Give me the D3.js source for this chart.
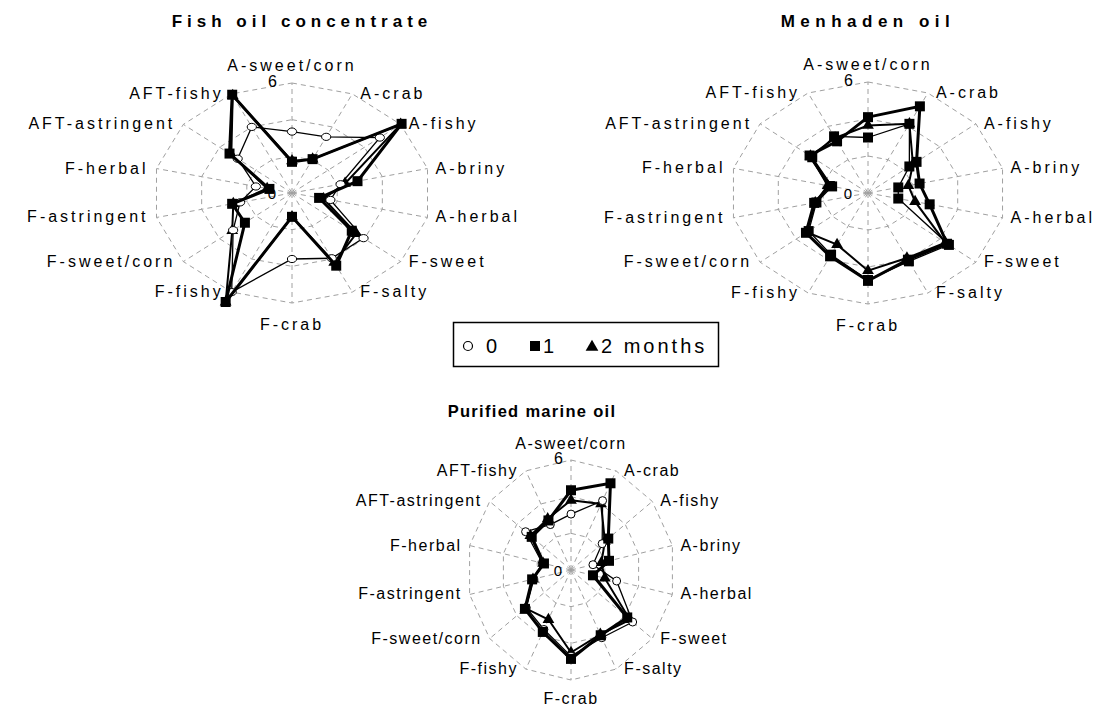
<!DOCTYPE html>
<html>
<head>
<meta charset="utf-8">
<script src="https://cdn.jsdelivr.net/npm/d3@7"></script>
<style>
  body { margin: 0; background: #fff; }
  svg { font-family: Arial, "Liberation Sans", sans-serif; }
</style>
</head>
<body>
<div id="chart"></div>
<script>
// sensory attributes, clockwise from the top
const attributes = ['A-sweet/corn', 'A-crab', 'A-fishy', 'A-briny', 'A-herbal', 'F-sweet', 'F-salty',
  'F-crab', 'F-fishy', 'F-sweet/corn', 'F-astringent', 'F-herbal', 'AFT-astringent', 'AFT-fishy']
const monthLabels = ['0', '1', '2 months']
const maxValue = 6
const ringValues = [2, 4, 6]

// Fish oil concentrate: 0, 1, 2 months
const fishOil0 = [3.35, 3.4, 4.85, 2.15, 1.7, 3.95, 3.95, 3.6, 6.0, 3.25, 2.3, 1.6, 3.0, 4.0]
const fishOil1 = [1.7, 2.05, 6.05, 2.9, 1.2, 3.3, 4.4, 1.3, 6.6, 2.6, 2.65, 1.0, 3.45, 5.95]
const fishOil2 = [1.75, 2.05, 6.0, 2.35, 1.4, 3.55, 4.2, 1.3, 6.6, 3.3, 2.6, 1.1, 3.35, 5.9]

// Menhaden oil
const menhaden0 = [3.0, 4.15, 2.3, 1.35, 1.35, 4.5, 4.1, 4.7, 3.7, 3.3, 2.3, 1.6, 3.1, 3.4]
const menhaden1 = [4.1, 5.2, 2.7, 2.3, 2.75, 4.4, 4.0, 4.75, 3.8, 3.45, 2.4, 1.7, 3.25, 3.1]
const menhaden2 = [3.65, 4.15, 2.5, 1.8, 2.1, 4.3, 3.9, 4.2, 3.1, 3.4, 2.35, 1.8, 3.2, 3.3]

// Purified marine oil
const purified0 = [3.05, 4.2, 2.3, 1.3, 2.7, 4.55, 4.1, 4.7, 3.6, 3.3, 2.2, 1.7, 3.35, 2.75]
const purified1 = [4.35, 5.25, 2.75, 2.25, 1.3, 4.15, 3.95, 4.85, 3.75, 3.4, 2.3, 1.6, 2.9, 3.0]
const purified2 = [3.8, 4.0, 2.5, 1.8, 2.0, 4.35, 3.9, 4.5, 3.0, 3.35, 2.25, 1.65, 3.0, 3.1]

const width = 1104
const height = 709

const panels = [
  { title: 'Fish oil concentrate', series: [fishOil0, fishOil1, fishOil2],
    markers: ['circle', 'square', 'triangle'],
    cx: 292, cy: 193, rx: 139, ry: 110, titleX: 302, titleY: 27, titleSize: 17, titleSpacing: 5,
    labelSpacing: 3, topDy: 12, bottomDy: 27, circle: [4.6, 3.6], tickDx: 15, zeroDx: 16 },
  { title: 'Menhaden oil', series: [menhaden0, menhaden1, menhaden2],
    markers: ['square', 'square', 'triangle'],
    cx: 868, cy: 193, rx: 138, ry: 111, titleX: 868, titleY: 27, titleSize: 17, titleSpacing: 5.5,
    labelSpacing: 3, topDy: 12, bottomDy: 27, circle: [4.6, 3.6], tickDx: 15, zeroDx: 16 },
  { title: 'Purified marine oil', series: [purified0, purified1, purified2],
    markers: ['circle', 'square', 'triangle'],
    cx: 571, cy: 570, rx: 104, ry: 110, titleX: 532, titleY: 417, titleSize: 16.5, titleSpacing: 1.3,
    labelSpacing: 1.5, topDy: 11, bottomDy: 24, circle: [4, 4], tickDx: 8, zeroDx: 9 }
]

// line width per month series
const seriesWidth = [1.3, 3, 2]
const drawOrder = [2, 0, 1]

const svg = d3.select('#chart')
  .append('svg')
  .attr('width', width)
  .attr('height', height)

const angle = d3.scaleLinear().domain([0, attributes.length]).range([0, 2 * Math.PI])
const radius = d3.scaleLinear().domain([0, maxValue]).range([0, 1])

function drawRadar (p) {
  const g = svg.append('g')
  const pos = (i, v) => [
    p.cx + p.rx * radius(v) * Math.sin(angle(i)),
    p.cy - p.ry * radius(v) * Math.cos(angle(i))
  ]

  // title
  g.append('text')
    .attr('x', p.titleX)
    .attr('y', p.titleY)
    .attr('text-anchor', 'middle')
    .attr('font-size', p.titleSize)
    .attr('font-weight', 'bold')
    .attr('letter-spacing', p.titleSpacing)
    .text(p.title)

  // grid rings (polygons) and spokes
  const ring = d3.line().curve(d3.curveLinearClosed)
  g.selectAll('.ring')
    .data(ringValues)
    .join('path')
    .attr('d', v => ring(attributes.map((a, i) => pos(i, v))))
    .attr('fill', 'none')
    .attr('stroke', '#a0a0a0')
    .attr('stroke-width', 1)
    .attr('stroke-dasharray', '5,4')
  g.selectAll('.spoke')
    .data(attributes)
    .join('line')
    .attr('x1', p.cx)
    .attr('y1', p.cy)
    .attr('x2', (a, i) => pos(i, maxValue)[0])
    .attr('y2', (a, i) => pos(i, maxValue)[1])
    .attr('stroke', '#a0a0a0')
    .attr('stroke-width', 1)
    .attr('stroke-dasharray', '5,4')

  // axis labels
  g.selectAll('.attr-label')
    .data(attributes)
    .join('text')
    .attr('x', (a, i) => {
      const s = Math.sin(angle(i))
      const x = pos(i, maxValue)[0]
      return Math.abs(s) < 0.1 ? x : x + (s > 0 ? 8 : -8)
    })
    .attr('y', (a, i) => {
      const c = Math.cos(angle(i))
      const y = pos(i, maxValue)[1]
      if (c > 0.99) return y - p.topDy
      if (c < -0.99) return y + p.bottomDy
      return y + 5
    })
    .attr('text-anchor', (a, i) => {
      const s = Math.sin(angle(i))
      return Math.abs(s) < 0.1 ? 'middle' : (s > 0 ? 'start' : 'end')
    })
    .attr('font-size', 16)
    .attr('letter-spacing', p.labelSpacing)
    .text(d => d)

  // scale labels 6 and 0
  g.append('text')
    .attr('x', p.cx - p.tickDx)
    .attr('y', p.cy - p.ry + 4)
    .attr('text-anchor', 'end')
    .attr('font-size', 16)
    .text(maxValue)
  g.append('text')
    .attr('x', p.cx - p.zeroDx)
    .attr('y', p.cy + 6)
    .attr('text-anchor', 'end')
    .attr('font-size', 15)
    .text(0)

  // month series
  const line = d3.line().curve(d3.curveLinearClosed)
  drawOrder.forEach(k => {
    const values = p.series[k]
    const marker = p.markers[k]
    const pts = values.map((v, i) => pos(i, v))
    g.append('path')
      .attr('d', line(pts))
      .attr('fill', 'none')
      .attr('stroke', '#000')
      .attr('stroke-width', seriesWidth[k])
      .attr('stroke-linejoin', 'miter')

    const m = g.append('g')
    if (marker === 'circle') {
      m.selectAll('ellipse')
        .data(pts)
        .join('ellipse')
        .attr('cx', d => d[0])
        .attr('cy', d => d[1])
        .attr('rx', p.circle[0])
        .attr('ry', p.circle[1])
        .attr('fill', '#fff')
        .attr('stroke', '#000')
        .attr('stroke-width', 1)
    } else {
      const sym = marker === 'square'
        ? d3.symbol().type(d3.symbolSquare).size(100)
        : d3.symbol().type(d3.symbolTriangle).size(60)
      m.selectAll('path')
        .data(pts)
        .join('path')
        .attr('transform', d => `translate(${d[0]},${d[1]})`)
        .attr('d', sym)
        .attr('fill', '#000')
    }
  })
}

panels.forEach(drawRadar)

// legend
const legend = svg.append('g')
legend.append('rect')
  .attr('x', 453.5)
  .attr('y', 322.5)
  .attr('width', 265)
  .attr('height', 44)
  .attr('fill', '#fff')
  .attr('stroke', '#000')
  .attr('stroke-width', 1.5)
const legendX = [468, 535, 592]
const legendTextX = [486, 543, 601]
legend.append('circle')
  .attr('cx', legendX[0]).attr('cy', 346).attr('r', 4.5)
  .attr('fill', '#fff').attr('stroke', '#000').attr('stroke-width', 1.2)
legend.append('path')
  .attr('transform', `translate(${legendX[1]},346)`)
  .attr('d', d3.symbol().type(d3.symbolSquare).size(100))
legend.append('path')
  .attr('transform', `translate(${legendX[2]},347)`)
  .attr('d', d3.symbol().type(d3.symbolTriangle).size(70))
legend.selectAll('.legend-text')
  .data(monthLabels)
  .join('text')
  .attr('x', (d, i) => legendTextX[i])
  .attr('y', 353)
  .attr('font-size', 20)
  .attr('letter-spacing', 3)
  .text(d => d)
</script>
</body>
</html>
